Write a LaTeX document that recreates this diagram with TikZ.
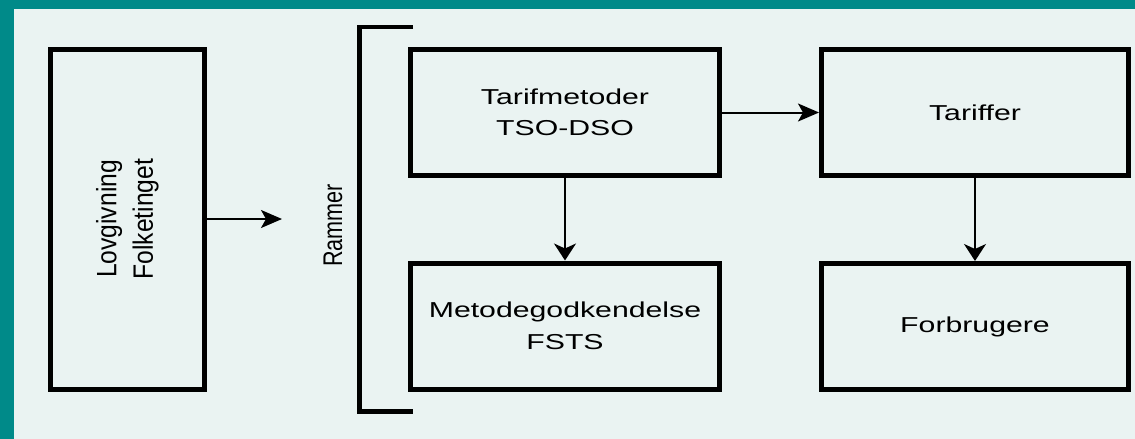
\documentclass[tikz,border=0pt]{standalone}
\usepackage{fontspec}
\setmainfont{Liberation Sans}
\newfontfamily\widesans[FakeStretch=1.4]{Liberation Sans}
\newfontfamily\narrowsans[FakeStretch=0.88]{Liberation Sans}
\newfontfamily\narrowersans[FakeStretch=0.8]{Liberation Sans}
\usetikzlibrary{arrows.meta}
\definecolor{teal0}{RGB}{0,138,137}
\definecolor{bgc}{RGB}{234,243,242}
\begin{document}
\begin{tikzpicture}[x=1pt,y=-1pt,
  box/.style={draw=black, line width=5pt, minimum width=309pt, minimum height=126pt, inner sep=0pt, align=center, font=\widesans\fontsize{21.6}{31.5}\selectfont},
  arr/.style={line width=2pt, -{Stealth[length=21pt,width=18pt,inset=5pt]}},
  varr/.style={line width=2pt, -{Stealth[length=17pt,width=22pt,inset=5pt]}},
  rot/.style={rotate=90, align=center, inner sep=0pt, font=\narrowsans\fontsize{28}{36.5}\selectfont}]
\fill[bgc] (0,0) rectangle (1135,439);
\fill[teal0] (0,0) rectangle (1135,9);
\fill[teal0] (0,0) rectangle (14,439);
\useasboundingbox (0,0) rectangle (1135,439);
% boxes
\node[box, minimum width=154pt, minimum height=340pt] (lov) at (127.5,219) {};
\node[rot] (lovtxt) at (lov.center) {Lovgivning\\Folketinget};
\node[box] (tm) at (565,112.5) {Tarifmetoder\\TSO-DSO};
\node[box] (mg) at (565,326) {Metodegodkendelse\\FSTS};
\node[box, minimum width=307pt] (ta) at (975,112.5) {Tariffer};
\node[box, minimum width=307pt] (fo) at (975,326.5) {Forbrugere};
% Rammer label and bracket
\node[rot, font=\narrowersans\fontsize{27}{30}\selectfont] (ram) at (333,225.5) {Rammer};
\draw[line width=4.5pt] (413,27) -- (359.5,27) -- (359.5,411.5) -- (413,411.5);
% connectors
\coordinate (lovend) at (282,219);
\draw[arr] (lov.east) -- (lovend);
\draw[arr] (tm.east) -- (ta.west);
\draw[varr] (tm.south) -- (mg.north);
\draw[varr] (ta.south) -- (fo.north);
\end{tikzpicture}
\end{document}
